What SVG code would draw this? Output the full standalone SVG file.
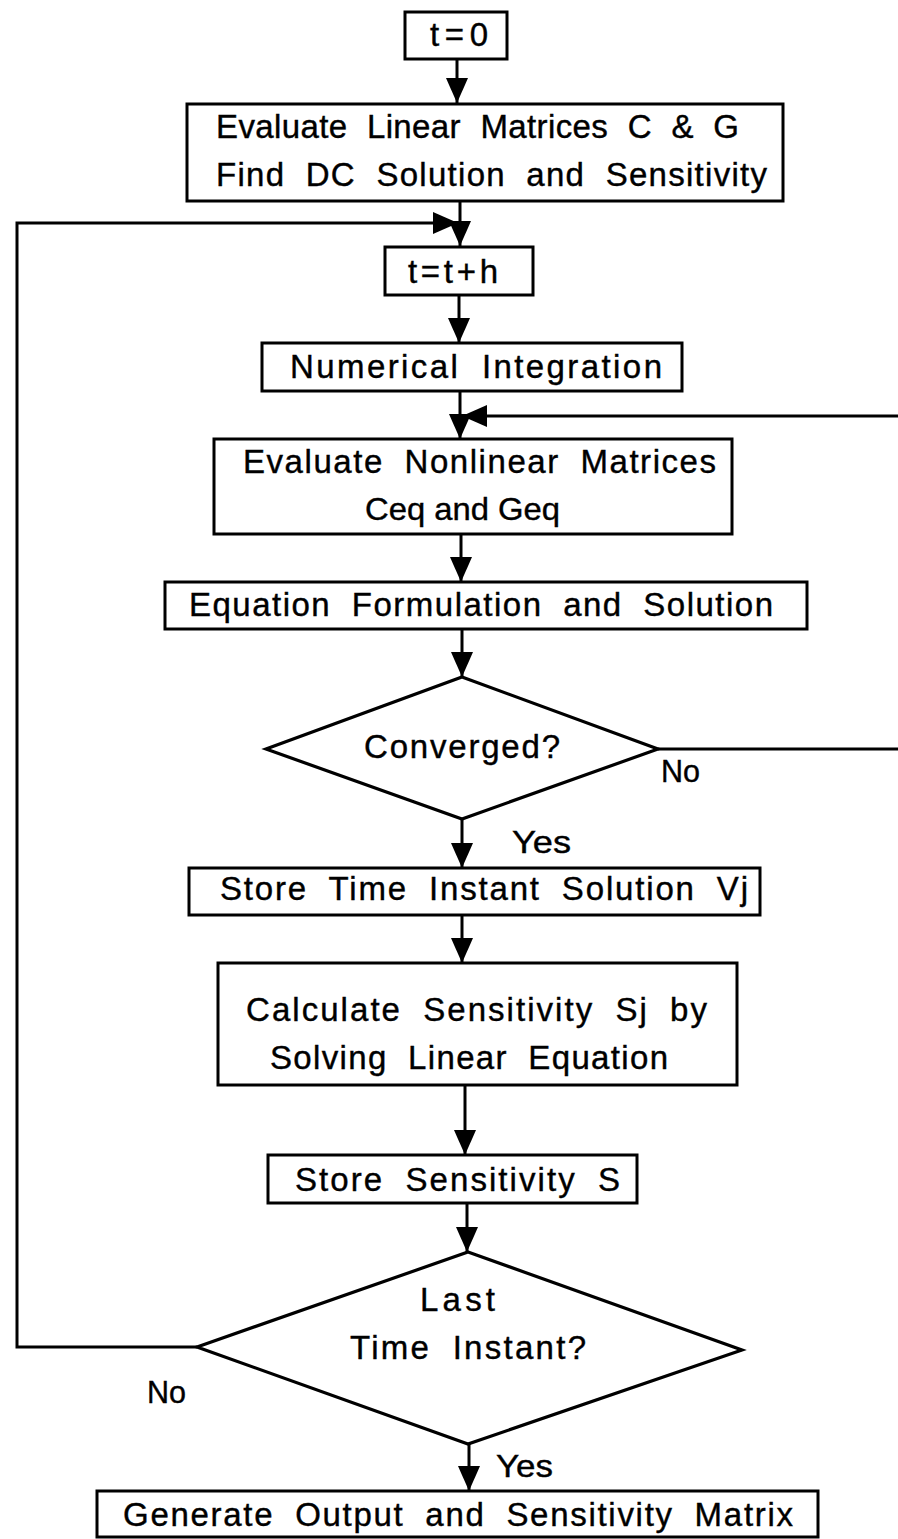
<svg xmlns="http://www.w3.org/2000/svg" width="898" height="1539" viewBox="0 0 898 1539">
  <style>
    .box { fill: #ffffff; stroke: #000000; stroke-width: 3; }
    .dia { fill: #ffffff; stroke: #000000; stroke-width: 3.2; stroke-linejoin: miter; }
    .wire { fill: none; stroke: #000000; stroke-width: 3; }
    .lbl { font-family: "Liberation Sans", Arial, Helvetica, sans-serif; font-size: 33px; fill: #000000; stroke: #000000; stroke-width: 0.4; word-spacing: 10px; }
    .tag { font-family: "Liberation Sans", Arial, Helvetica, sans-serif; font-size: 32px; fill: #000000; stroke: #000000; stroke-width: 0.4; }
  </style>
  <defs>
    <marker id="head" markerUnits="userSpaceOnUse" markerWidth="26" markerHeight="24" viewBox="0 0 26 24" refX="25" refY="12" orient="auto">
      <path d="M0,1 L25,12 L0,23 z" fill="#000000"/>
    </marker>
  </defs>

  <rect width="898" height="1539" fill="#ffffff"/>

  <!-- connectors -->
  <g id="connectors">
    <line class="wire" x1="457" y1="59" x2="457" y2="103" marker-end="url(#head)"/>
    <line class="wire" x1="460" y1="201" x2="460" y2="246" marker-end="url(#head)"/>
    <path class="wire" d="M197,1347 H17 V223 H458" marker-end="url(#head)"/>
    <line class="wire" x1="459" y1="295" x2="459" y2="343" marker-end="url(#head)"/>
    <line class="wire" x1="460" y1="391" x2="460" y2="439" marker-end="url(#head)"/>
    <path class="wire" d="M898,416 H462" marker-end="url(#head)"/>
    <line class="wire" x1="461" y1="534" x2="461" y2="582" marker-end="url(#head)"/>
    <line class="wire" x1="462" y1="629" x2="462" y2="677" marker-end="url(#head)"/>
    <line class="wire" x1="658" y1="749" x2="898" y2="749"/>
    <line class="wire" x1="462" y1="819" x2="462" y2="868" marker-end="url(#head)"/>
    <line class="wire" x1="462" y1="915" x2="462" y2="963" marker-end="url(#head)"/>
    <line class="wire" x1="465" y1="1085" x2="465" y2="1155" marker-end="url(#head)"/>
    <line class="wire" x1="467" y1="1203" x2="467" y2="1252" marker-end="url(#head)"/>
    <line class="wire" x1="469" y1="1444" x2="469" y2="1491" marker-end="url(#head)"/>
    <text class="tag" x="661" y="782" textLength="39" lengthAdjust="spacingAndGlyphs">No</text>
    <text class="tag" x="512" y="853" textLength="59" lengthAdjust="spacingAndGlyphs">Yes</text>
    <text class="tag" x="147" y="1403" textLength="39" lengthAdjust="spacingAndGlyphs">No</text>
    <text class="tag" x="496" y="1477" textLength="57" lengthAdjust="spacingAndGlyphs">Yes</text>
  </g>

  <g id="start">
    <rect class="box" x="405" y="12" width="102" height="47"/>
    <text class="lbl" x="430" y="46" textLength="58" lengthAdjust="spacing">t=0</text>
  </g>

  <g id="linear-matrices">
    <rect class="box" x="187" y="104" width="596" height="97"/>
    <text class="lbl" x="216" y="138" textLength="523" lengthAdjust="spacing">Evaluate Linear Matrices C &amp; G</text>
    <text class="lbl" x="216" y="186" textLength="551" lengthAdjust="spacing">Find DC Solution and Sensitivity</text>
  </g>

  <g id="time-step">
    <rect class="box" x="385" y="247" width="148" height="48"/>
    <text class="lbl" x="408" y="283" textLength="90" lengthAdjust="spacing">t=t+h</text>
  </g>

  <g id="integration">
    <rect class="box" x="262" y="343" width="420" height="48"/>
    <text class="lbl" x="290" y="378" textLength="372" lengthAdjust="spacing">Numerical Integration</text>
  </g>

  <g id="nonlinear-matrices">
    <rect class="box" x="214" y="439" width="518" height="95"/>
    <text class="lbl" x="243" y="473" textLength="473" lengthAdjust="spacing">Evaluate Nonlinear Matrices</text>
    <text class="tag" x="365" y="520" textLength="195" lengthAdjust="spacingAndGlyphs">Ceq and Geq</text>
  </g>

  <g id="formulation">
    <rect class="box" x="165" y="582" width="642" height="47"/>
    <text class="lbl" x="189" y="616" textLength="584" lengthAdjust="spacing">Equation Formulation and Solution</text>
  </g>

  <g id="converged">
    <polygon class="dia" points="462,677 658,749 462,819 266,749"/>
    <text class="lbl" x="364" y="758" textLength="196" lengthAdjust="spacing">Converged?</text>
  </g>

  <g id="store-solution">
    <rect class="box" x="189" y="868" width="571" height="47"/>
    <text class="lbl" x="220" y="900" textLength="528" lengthAdjust="spacing">Store Time Instant Solution Vj</text>
  </g>

  <g id="sensitivity-calc">
    <rect class="box" x="218" y="963" width="519" height="122"/>
    <text class="lbl" x="246" y="1021" textLength="461" lengthAdjust="spacing">Calculate Sensitivity Sj by</text>
    <text class="lbl" x="270" y="1069" textLength="398" lengthAdjust="spacing">Solving Linear Equation</text>
  </g>

  <g id="store-sensitivity">
    <rect class="box" x="268" y="1155" width="369" height="48"/>
    <text class="lbl" x="295" y="1191" textLength="325" lengthAdjust="spacing">Store Sensitivity S</text>
  </g>

  <g id="last-instant">
    <polygon class="dia" points="468,1252 742,1350 468,1444 197,1347"/>
    <text class="lbl" x="420" y="1311" textLength="75" lengthAdjust="spacing">Last</text>
    <text class="lbl" x="350" y="1359" textLength="236" lengthAdjust="spacing">Time Instant?</text>
  </g>

  <g id="output">
    <rect class="box" x="97" y="1491" width="721" height="46"/>
    <text class="lbl" x="123" y="1526" textLength="670" lengthAdjust="spacing">Generate Output and Sensitivity Matrix</text>
  </g>
</svg>
